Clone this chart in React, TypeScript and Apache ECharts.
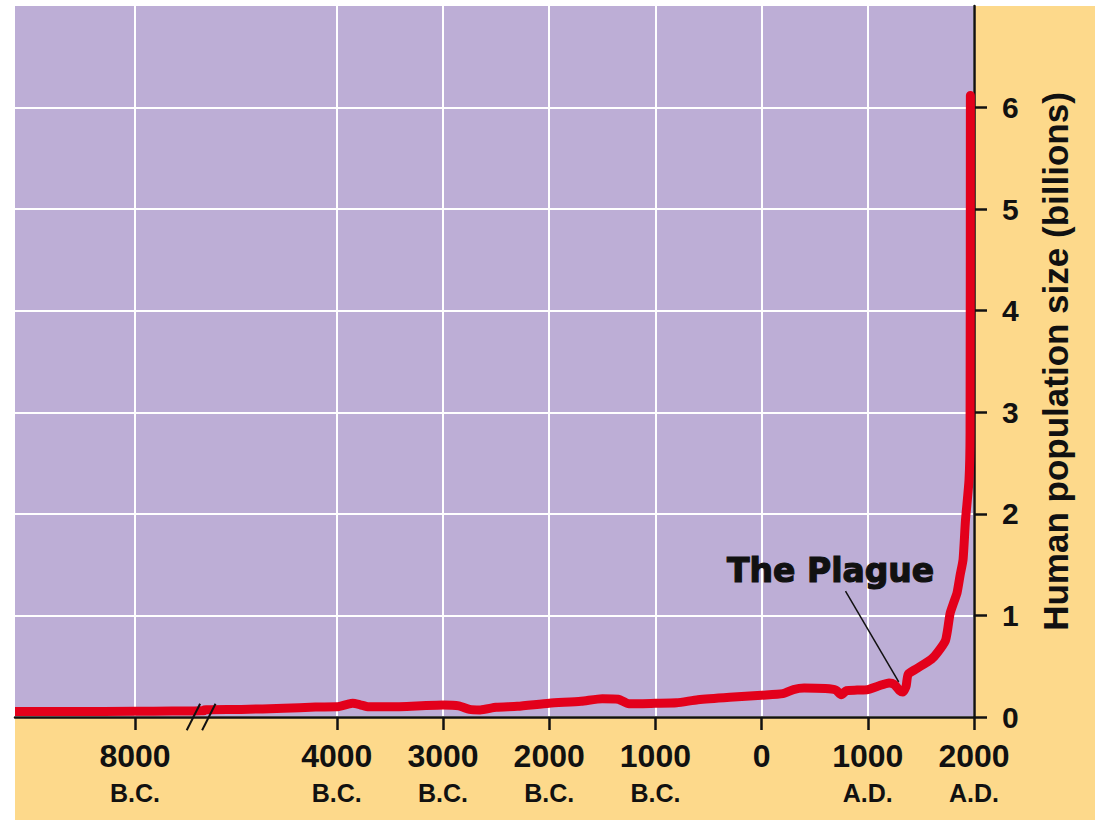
import React, { useEffect, useRef } from 'react';
import * as echarts from 'echarts';

// Axis break: years between BREAK_FROM and BREAK_TO are cut out of the x axis
const BREAK_FROM = -7350;
const BREAK_TO = -5250;
const SHIFT = BREAK_TO - BREAK_FROM;
const toAxis = (y: number) => (y <= BREAK_FROM ? y + SHIFT : y);
const fromAxis = (v: number) => (v < BREAK_TO ? v - SHIFT : v);

// Years (negative = B.C.) and human population size (billions)
const years = [
  -9130, -8600, -8000, -7650, -7350,
  -5250, -4900, -4500, -4200, -4000,
  -3900, -3850, -3780, -3700, -3500,
  -3000, -2850, -2750, -2650, -2500,
  -2300, -2000, -1700, -1500, -1350,
  -1250, -1000, -800, -600, -300,
  0, 200, 300, 400, 600,
  700, 750, 800, 900, 1000,
  1100, 1200, 1250, 1300, 1330,
  1360, 1380, 1450, 1600, 1660,
  1730, 1750, 1775, 1810, 1840,
  1870, 1897, 1920, 1953, 1963,
  1966,
];
const population = [
  0.055, 0.055, 0.056, 0.058, 0.062,
  0.07, 0.075, 0.085, 0.098, 0.1,
  0.125, 0.135, 0.12, 0.1, 0.1,
  0.118, 0.11, 0.075, 0.07, 0.095,
  0.105, 0.135, 0.155, 0.18, 0.175,
  0.13, 0.135, 0.14, 0.17, 0.195,
  0.215, 0.23, 0.27, 0.285, 0.28,
  0.265, 0.22, 0.26, 0.265, 0.27,
  0.305, 0.335, 0.32, 0.26, 0.245,
  0.3, 0.42, 0.47, 0.57, 0.64,
  0.75, 0.85, 1.02, 1.13, 1.22,
  1.4, 1.55, 1.94, 2.33, 2.8,
  6.12,
];

const tickYears = [-8000, -4000, -3000, -2000, -1000, 0, 1000, 2000];
const popTicks = [0, 1, 2, 3, 4, 5, 6];
const xStartYear = -9130;
const xEndYear = 2000;
const yMax = 7;

const yAxisTitle = 'Human population size (billions)';
const plagueLabel = 'The Plague';
const plagueLabelAt = [650, 1.44];
const plaguePointer = [
  [790, 1.24],
  [1291, 0.345],
];

const PURPLE = '#bdaed6';
const YELLOW = '#fdd98b';
const RED = '#e3001b';
const INK = '#111111';
const FONT = '"Liberation Sans", Arial, sans-serif';

export default function App() {
  const ref = useRef<HTMLDivElement>(null);

  useEffect(() => {
    const chart = echarts.init(ref.current as HTMLDivElement, null, { renderer: 'svg' });
    const lineStyle = { color: INK, width: 2.5 };
    const option: any = {
      animation: false,
      graphic: [
        {
          id: 'bg',
          type: 'rect',
          z: -10,
          silent: true,
          shape: { x: 15, y: 6, width: 1080, height: 814 },
          style: { fill: YELLOW },
        },
      ],
      grid: {
        left: 15,
        top: 6,
        right: 124,
        bottom: 103,
        show: true,
        backgroundColor: PURPLE,
        borderWidth: 0,
      },
      xAxis: {
        type: 'value',
        min: toAxis(xStartYear),
        max: xEndYear,
        axisLine: { show: true, onZero: false, lineStyle },
        axisTick: {
          show: true,
          length: 13,
          customValues: tickYears.map(toAxis),
          lineStyle,
        },
        axisLabel: {
          customValues: tickYears.map(toAxis),
          showMinLabel: true,
          showMaxLabel: true,
          margin: 20,
          formatter: (v: number) => {
            const y = Math.round(fromAxis(v));
            if (y === 0) return '{n|0}';
            return y < 0 ? `{n|${-y}}\n{e|B.C.}` : `{n|${y}}\n{e|A.D.}`;
          },
          rich: {
            n: { fontSize: 32, fontWeight: 'bold', color: INK, fontFamily: FONT, lineHeight: 37 },
            e: { fontSize: 25, fontWeight: 'bold', color: INK, fontFamily: FONT, lineHeight: 37 },
          },
        },
        splitLine: { show: true, lineStyle: { color: '#ffffff', width: 2 } },
      },
      yAxis: {
        type: 'value',
        position: 'right',
        min: 0,
        max: yMax,
        interval: 1,
        axisLine: { show: true, onZero: false, lineStyle },
        axisTick: { show: true, length: 13, customValues: popTicks, lineStyle },
        axisLabel: {
          customValues: popTicks,
          margin: 28,
          fontSize: 30,
          fontWeight: 'bold',
          color: INK,
          fontFamily: FONT,
        },
        splitLine: { show: true, lineStyle: { color: '#ffffff', width: 2 } },
        name: yAxisTitle,
        nameLocation: 'middle',
        nameRotate: 90,
        nameGap: 64,
        nameTextStyle: { fontSize: 35, fontWeight: 'bold', color: INK, fontFamily: FONT },
      },
      series: [
        {
          type: 'line',
          data: years.map((y, i) => [toAxis(y), population[i]]),
          symbol: 'none',
          showSymbol: false,
          smooth: 0.2,
          clip: true,
          z: 3,
          lineStyle: { color: RED, width: 9, join: 'round', cap: 'butt' },
          markLine: {
            silent: true,
            symbol: ['none', 'none'],
            label: { show: false },
            lineStyle: { color: INK, width: 1.5, type: 'solid' },
            data: [[{ coord: plaguePointer[0] }, { coord: plaguePointer[1] }]],
          },
          markPoint: {
            silent: true,
            data: [
              {
                coord: plagueLabelAt,
                symbol: 'circle',
                symbolSize: 1,
                itemStyle: { color: 'rgba(0,0,0,0)' },
                label: {
                  show: true,
                  position: 'inside',
                  formatter: plagueLabel,
                  color: INK,
                  fontSize: 33,
                  fontWeight: 'bold',
                  fontFamily: '"DejaVu Sans", sans-serif',
                  textBorderColor: INK,
                  textBorderWidth: 1.2,
                },
              },
            ],
          },
        },
      ],
    };
    chart.setOption(option);

    // axis-break slashes, placed through the axis scale
    const slashes = [BREAK_TO - 100, BREAK_TO + 45].map((v, i) => {
      const p = chart.convertToPixel({ xAxisIndex: 0, yAxisIndex: 0 }, [v, 0]) as number[];
      return {
        id: 'brk' + i,
        type: 'line',
        z: 10,
        silent: true,
        shape: { x1: p[0] - 6.7, y1: p[1] + 13.3, x2: p[0] + 6.7, y2: p[1] - 13.3 },
        style: { stroke: INK, lineWidth: 2 },
      };
    });
    chart.setOption({ graphic: slashes });

    return () => chart.dispose();
  }, []);

  return (
    <div
      ref={ref}
      style={{ position: 'absolute', left: 0, top: 0, width: 1098, height: 820 }}
    />
  );
}
